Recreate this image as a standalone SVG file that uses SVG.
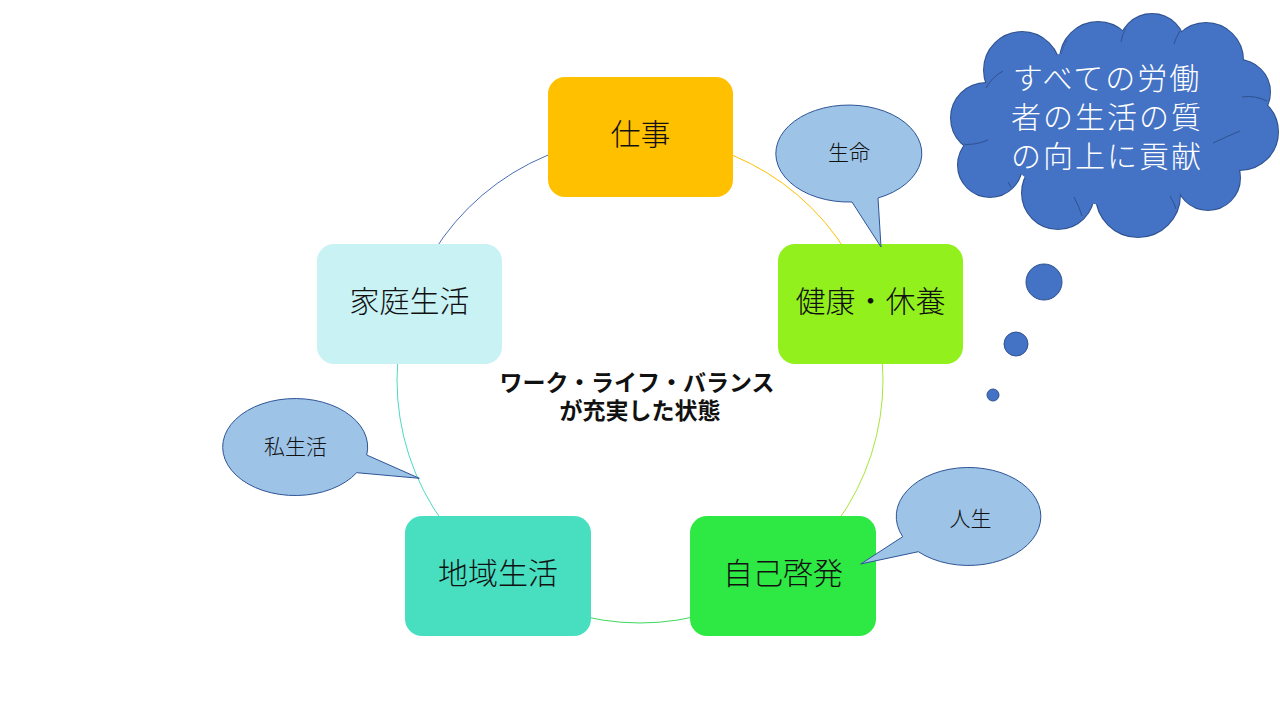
<svg xmlns="http://www.w3.org/2000/svg" width="1280" height="720" viewBox="0 0 1280 720">
<style>
.box text{font-family:"Noto Sans CJK JP","Noto Sans",sans-serif;font-size:30px;font-weight:300;fill:#111;text-anchor:middle}
.call{fill:#9DC3E6;stroke:#2F5597;stroke-width:1}
.ct{font-family:"Noto Sans CJK JP","Noto Sans",sans-serif;font-size:21px;font-weight:300;fill:#111;text-anchor:middle}
.arc{fill:none;stroke-width:1}
.cs{fill:#4472C4;stroke:#2F528F;stroke-width:2}
.cf{fill:#4472C4}
.ci{fill:none;stroke:#2F528F;stroke-width:1}
</style>
<defs>
<g id="cloud-circles">
<circle cx="1022" cy="70" r="38"/>
<circle cx="1098" cy="60" r="38"/>
<circle cx="1152" cy="47" r="33"/>
<circle cx="1206" cy="60" r="37"/>
<circle cx="1238" cy="92" r="32"/>
<circle cx="1240" cy="132" r="38"/>
<circle cx="1208" cy="178" r="32"/>
<circle cx="1138" cy="195" r="42"/>
<circle cx="1058" cy="193" r="36"/>
<circle cx="990" cy="165" r="32"/>
<circle cx="986" cy="118" r="35"/>
</g>
<clipPath id="cloud-clip">
<circle cx="1022" cy="70" r="37"/>
<circle cx="1098" cy="60" r="37"/>
<circle cx="1152" cy="47" r="32"/>
<circle cx="1206" cy="60" r="36"/>
<circle cx="1238" cy="92" r="31"/>
<circle cx="1240" cy="132" r="37"/>
<circle cx="1208" cy="178" r="31"/>
<circle cx="1138" cy="195" r="41"/>
<circle cx="1058" cy="193" r="35"/>
<circle cx="990" cy="165" r="31"/>
<circle cx="986" cy="118" r="34"/>
<ellipse cx="1112" cy="125" rx="115" ry="80"/>
</clipPath>
</defs>
<rect width="1280" height="720" fill="#fff"/>
<g id="connectors">
<path class="arc" stroke="#FFC000" d="M640,137 A243,243 0 0 1 871.1,304.9"/>
<path class="arc" stroke="#A8E63A" d="M871.1,304.9 A243,243 0 0 1 782.8,576.6"/>
<path class="arc" stroke="#3DD85A" d="M782.8,576.6 A243,243 0 0 1 497.2,576.6"/>
<path class="arc" stroke="#4ED9C4" d="M497.2,576.6 A243,243 0 0 1 408.9,304.9"/>
<path class="arc" stroke="#4A6FB8" d="M408.9,304.9 A243,243 0 0 1 640,137"/>
</g>
<g id="n-shigoto" class="box"><rect x="548" y="77" width="185" height="120" rx="17" fill="#FFC000"/><text x="640.5" y="145">仕事</text></g>
<g id="n-kenkou" class="box"><rect x="778" y="244" width="185" height="120" rx="17" fill="#92F01C"/><text x="870.5" y="312">健康・休養</text></g>
<g id="n-jiko" class="box"><rect x="690" y="516" width="186" height="120" rx="17" fill="#2EE844"/><text x="783" y="584">自己啓発</text></g>
<g id="n-chiiki" class="box"><rect x="405" y="516" width="186" height="120" rx="17" fill="#48DFC1"/><text x="498" y="584">地域生活</text></g>
<g id="n-katei" class="box"><rect x="317" y="244" width="185" height="120" rx="17" fill="#C9F2F5"/><text x="409.5" y="312">家庭生活</text></g>
<g id="center-label" font-family="Noto Sans CJK JP, Noto Sans, sans-serif" font-weight="bold" font-size="23" fill="#111" text-anchor="middle">
<text x="637" y="391">ワーク・ライフ・バランス</text>
<text x="640" y="419">が充実した状態</text>
</g>
<g id="callout-seimei">
<path class="call" d="M852,202 L881,247 L878,198 A73,48.5 0 1 0 852,202 Z"/>
<text class="ct" x="849" y="160">生命</text>
</g>
<g id="callout-shiseikatsu">
<path class="call" d="M366.7,455 L419.3,478.3 L356.7,472.7 A72.5,48.5 0 1 1 366.7,455 Z"/>
<text class="ct" x="295.5" y="454">私生活</text>
</g>
<g id="callout-jinsei">
<path class="call" d="M902.7,536.7 L860.7,564 L918.3,551.7 A72.3,49 0 1 0 902.7,536.7 Z"/>
<text class="ct" x="970.5" y="525.5">人生</text>
</g>
<g id="cloud">
<use href="#cloud-circles" class="cs"/>
<g class="cf">
<use href="#cloud-circles"/>
<ellipse cx="1112" cy="125" rx="115" ry="80"/>
</g>
<g class="ci" clip-path="url(#cloud-clip)">
<path d="M986,88 Q992,77 1003,71"/>
<path d="M1061,54 Q1063,46 1067,40"/>
<path d="M1121,42 Q1122,35 1126,28"/>
<path d="M1174,44 Q1176,37 1180,31"/>
<path d="M1242,97 Q1255,95 1267,101"/>
<path d="M1213,143 Q1228,136 1240,131"/>
<path d="M1170,196 Q1174,202 1176,209"/>
<path d="M1074,197 Q1079,206 1082,216"/>
<path d="M1008,182 Q1012,189 1017,196"/>
<path d="M960,144 Q974,146 988,140"/>
</g>
<g font-family="Noto Sans CJK JP, Noto Sans, sans-serif" font-size="30" font-weight="300" letter-spacing="2" fill="#fff" text-anchor="middle">
<text x="1107" y="89">すべての労働</text>
<text x="1107" y="128">者の生活の質</text>
<text x="1107" y="167">の向上に貢献</text>
</g>
</g>
<g id="thought-dots" fill="#4472C4" stroke="#2F528F" stroke-width="1">
<circle cx="1044" cy="282" r="18"/>
<circle cx="1016" cy="344" r="12"/>
<circle cx="993" cy="395" r="6"/>
</g>
</svg>
